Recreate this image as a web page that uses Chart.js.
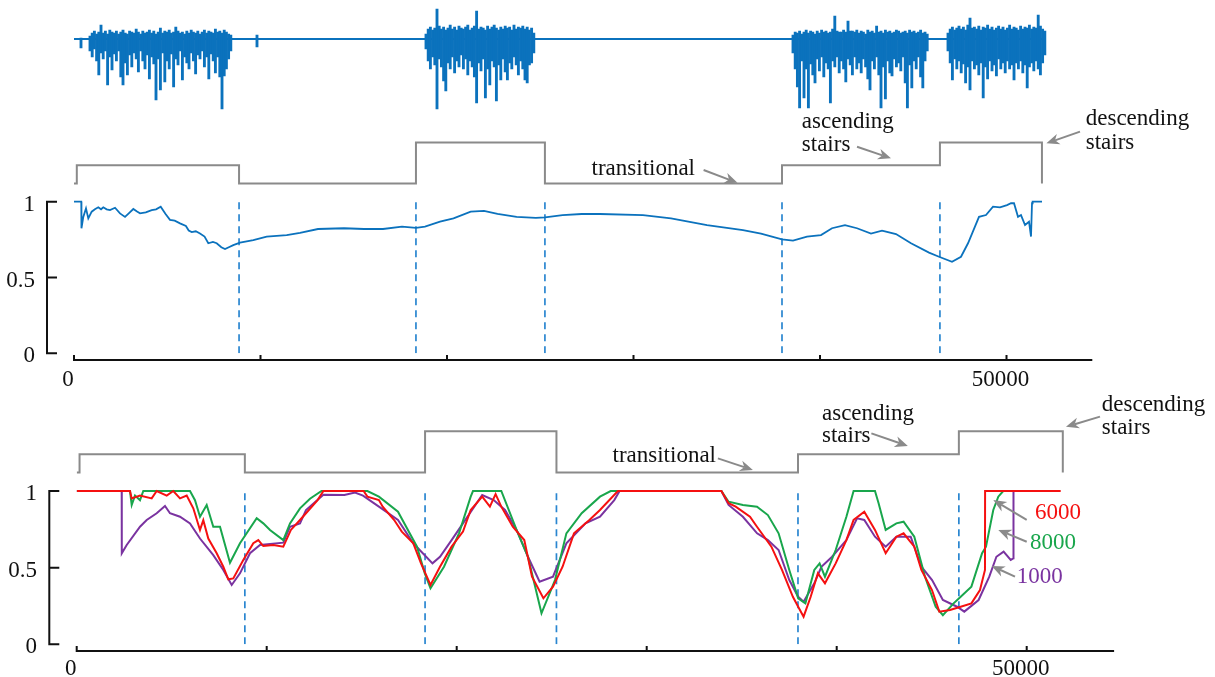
<!DOCTYPE html>
<html>
<head>
<meta charset="utf-8">
<script src="https://cdn.jsdelivr.net/npm/chart.js@4/dist/chart.umd.min.js"></script>
<style>
  html, body { margin: 0; padding: 0; background: #fff; }
  #wrap { position: relative; width: 1215px; height: 677px; overflow: hidden; }
  canvas { position: absolute; left: 0; }
</style>
</head>
<body>
<div id="wrap">
  <canvas id="signal" width="1215" height="120" style="top:0"></canvas>
  <canvas id="single" width="1215" height="305" style="top:90px"></canvas>
  <canvas id="windows" width="1215" height="297" style="top:380px"></canvas>
</div>
<script>
"use strict";

Chart.defaults.font.family = "'Liberation Serif', 'Times New Roman', serif";
Chart.defaults.font.size = 23;
Chart.defaults.color = "#111";

// x is the sample index
const sampleMax = 54600;
const xTicks = [0, 10000, 20000, 30000, 40000, 50000];
const xTickLabels = ["0", "", "", "", "", "50000"];
const yTicks = [0, 0.5, 1];

// gray activity trace: sample where each activity starts and its level
const activityX = [0, 150, 8850, 18335, 25250, 37962, 46430, 51900];
const activityLevel = [1.12, 1.24, 1.12, 1.39, 1.12, 1.24, 1.39, 1.12];
const changePoints = [8850, 18335, 25250, 37962, 46430];

// raw sensor bursts (one spike per entry, spread over each burst)
const burstStart = [858, 18874, 38552, 46863];
const burstEnd = [8408, 24654, 45748, 52054];
const burstLow = [
  [-12,-18,-10,-22,-36,-14,-20,-12,-46,-18,-31,-15,-22,-12,-38,-46,-24,-36,-16,-28,-14,-20,-33,-12,-22,-30,-16,-40,-18,-25,-61,-20,-51,-14,-43,-22,-30,-15,-48,-20,-26,-12,-41,-18,-24,-30,-14,-22,-35,-16,-20,-12,-28,-18,-40,-15,-22,-34,-18,-38,-70,-37,-30,-20,-12],
  [-10,-22,-30,-18,-26,-70,-20,-28,-42,-52,-24,-30,-18,-34,-22,-28,-16,-30,-20,-36,-22,-28,-38,-64,-24,-32,-20,-59,-30,-46,-22,-28,-62,-26,-41,-20,-33,-41,-24,-30,-18,-26,-36,-22,-30,-41,-44,-26,-24,-14],
  [-14,-30,-48,-69,-22,-59,-30,-69,-25,-36,-44,-20,-32,-18,-38,-24,-30,-64,-22,-28,-18,-34,-22,-30,-43,-20,-26,-36,-18,-30,-24,-34,-20,-28,-40,-51,-22,-30,-18,-36,-69,-28,-60,-22,-34,-37,-20,-28,-24,-32,-18,-44,-69,-26,-49,-22,-30,-18,-38,-49,-22,-12],
  [-12,-24,-41,-20,-30,-22,-34,-25,-44,-28,-51,-22,-30,-26,-36,-24,-59,-28,-40,-22,-32,-26,-37,-20,-30,-24,-34,-22,-30,-26,-41,-24,-30,-22,-34,-26,-49,-28,-24,-32,-22,-30,-36,-24,-16]
];
const burstHigh = [
  [3,6,8,5,7,14,6,8,5,9,7,6,8,5,7,9,6,5,8,7,6,10,7,5,8,6,7,9,6,8,5,7,11,6,8,7,9,6,7,12,8,6,7,5,8,6,9,7,6,8,5,7,9,6,8,7,6,10,7,8,6,9,7,5,4],
  [5,10,12,9,11,30,13,10,12,9,11,14,10,12,9,13,11,10,12,14,9,11,13,28,10,12,11,9,13,10,12,14,11,9,12,10,13,11,12,9,14,10,12,11,13,10,12,9,11,6],
  [4,7,6,8,5,7,9,6,8,7,5,8,6,9,7,8,6,7,10,23,8,7,7,9,7,18,8,8,7,9,6,8,7,5,9,7,8,6,13,7,8,6,9,7,8,6,7,9,8,6,7,8,6,9,7,8,6,7,9,6,7,5],
  [6,10,12,9,11,13,10,12,9,14,21,11,12,10,13,9,12,11,14,10,12,9,11,13,10,12,9,11,14,10,12,11,9,13,10,12,11,14,10,12,11,24,13,10,8]
];
const isolatedX = [375, 9812];
const isolatedLow = [-9, -8];
const isolatedHigh = [1, 4];
const signalEnd = 52054;

// estimate over the whole record
const singleTrace = [
  [0,1],[390,1],[400,0.825],[499,0.9],[643,0.956],[767,0.89],[949,0.934],[1120,0.95],[1303,0.963],[1450,0.95],
  [1571,0.963],[1750,0.95],[1930,0.945],[2200,0.96],[2466,0.923],[2735,0.9],[2950,0.925],[3180,0.952],[3380,0.935],
  [3539,0.923],[3850,0.93],[4166,0.945],[4400,0.95],[4649,0.967],[4900,0.92],[5147,0.88],[5400,0.875],[5684,0.857],
  [6000,0.84],[6150,0.81],[6311,0.8],[6530,0.805],[6756,0.79],[7000,0.77],[7201,0.726],[7450,0.735],[7651,0.726],
  [7900,0.7],[8097,0.688],[8300,0.7],[8542,0.714],[8901,0.73],[9614,0.747],[10332,0.77],[11405,0.78],[12118,0.795],
  [13083,0.82],[14477,0.825],[15550,0.82],[16568,0.82],[17587,0.835],[18338,0.828],[18820,0.835],[19625,0.868],
  [20349,0.89],[21271,0.934],[21984,0.94],[22708,0.919],[23732,0.9],[24761,0.894],[25255,0.897],[26198,0.912],
  [27222,0.919],[28204,0.919],[30509,0.912],[32011,0.89],[33941,0.846],[35871,0.813],[36836,0.79],[37962,0.752],
  [38552,0.743],[39303,0.77],[40054,0.78],[40643,0.825],[41340,0.846],[41984,0.825],[42735,0.79],[43324,0.809],
  [44075,0.787],[44879,0.726],[45845,0.664],[46381,0.637],[47078,0.604],[47560,0.637],[47936,0.726],[48525,0.9],
  [48901,0.912],[49276,0.967],[49651,0.963],[50027,0.978],[50241,0.99],[50402,0.99],[50617,0.9],[50777,0.912],
  [50992,0.846],[51206,0.868],[51314,0.77],[51367,0.99],[51400,1],[51903,1]
];

// sliding window estimates, window of 6000 / 8000 / 1000 samples
const trace6000 = [
  [0,1],[2805,1],[2895,0.952],[3332,0.97],[3947,0.952],[4210,1],[4737,0.97],[5084,1],[5437,0.952],[5789,0.97],
  [6137,0.887],[6489,0.746],[6663,0.81],[6926,0.69],[7368,0.594],[7716,0.506],[7979,0.424],[8242,0.43],[8768,0.55],
  [9295,0.659],[9558,0.68],[9821,0.641],[10347,0.648],[10873,0.637],[11273,0.746],[11752,0.811],[12068,0.855],
  [12679,0.941],[12984,1],[15100,1],[15300,0.963],[15905,0.941],[16105,0.898],[16710,0.811],[17110,0.735],
  [17716,0.659],[18121,0.528],[18621,0.387],[19121,0.506],[19731,0.637],[20331,0.735],[20737,0.876],[21342,0.963],
  [21747,0.898],[22047,0.98],[22347,0.898],[22952,0.767],[23557,0.68],[23963,0.441],[24563,0.3],[25068,0.376],
  [25573,0.506],[26173,0.724],[26984,0.811],[27542,0.876],[28484,1],[33931,1],[34310,0.92],[34684,0.898],
  [35436,0.832],[35805,0.767],[36563,0.637],[37120,0.485],[37694,0.31],[37973,0.245],[38257,0.18],[38631,0.31],
  [39010,0.463],[39383,0.398],[39946,0.528],[40510,0.68],[40889,0.811],[41452,0.865],[42015,0.746],[42578,0.594],
  [43141,0.702],[43520,0.724],[44084,0.637],[44457,0.485],[45015,0.354],[45399,0.213],[45962,0.224],[46526,0.245],
  [47089,0.267],[47541,0.354],[47804,0.485],[47810,1],[51789,1]
];
const trace8000 = [
  [0,1],[2805,1],[2895,0.909],[3068,0.97],[3332,0.94],[3505,1],[5963,1],[6226,0.94],[6489,0.832],[6842,0.909],
  [7189,0.767],[7542,0.767],[8068,0.532],[8594,0.659],[9473,0.822],[9821,0.789],[10173,0.746],[10873,0.68],
  [11226,0.789],[11752,0.887],[12278,0.95],[12884,1],[15300,1],[15905,0.963],[16910,0.865],[17910,0.637],
  [18321,0.463],[18621,0.365],[19331,0.506],[20121,0.724],[20737,0.963],[20857,1],[22347,1],[23152,0.746],
  [23752,0.571],[24463,0.202],[25173,0.419],[25773,0.724],[26578,0.855],[27542,0.963],[28105,1],[33931,1],
  [34310,0.93],[35063,0.909],[35805,0.898],[36378,0.843],[36942,0.724],[37505,0.485],[37973,0.3],[38352,0.267],
  [38821,0.485],[39100,0.528],[39383,0.441],[39946,0.615],[40510,0.832],[40889,1],[42015,1],[42205,0.92],
  [42578,0.746],[43141,0.789],[43520,0.8],[44084,0.702],[44647,0.441],[45210,0.245],[45589,0.19],[46152,0.267],
  [46526,0.31],[47089,0.376],[47652,0.594],[47857,0.637],[48241,0.876],[48505,0.963],[48768,1]
];
const trace1000 = [
  [0,1],[2368,1],[2373,0.594],[2632,0.648],[3332,0.767],[3684,0.811],[4210,0.855],[4647,0.902],[4910,0.855],
  [5437,0.832],[5963,0.789],[6489,0.69],[7189,0.582],[7716,0.485],[8158,0.387],[8594,0.463],[9121,0.594],
  [9647,0.648],[10873,0.663],[11226,0.767],[11752,0.789],[12068,0.876],[12984,0.976],[14089,0.974],[14647,0.99],
  [15068,0.97],[15905,0.898],[16910,0.811],[17716,0.659],[18726,0.528],[19121,0.571],[19731,0.68],[20331,0.789],
  [21342,0.974],[21947,0.941],[22542,0.876],[23152,0.746],[23752,0.571],[24363,0.408],[25068,0.441],[25773,0.659],
  [26778,0.789],[27542,0.832],[28294,0.941],[28573,1],[33931,1],[34310,0.909],[35063,0.832],[35810,0.724],
  [36378,0.68],[36942,0.615],[37505,0.419],[37973,0.31],[38257,0.278],[38821,0.398],[39194,0.506],[39757,0.571],
  [40510,0.68],[41073,0.822],[41452,0.811],[42015,0.702],[42578,0.637],[43141,0.702],[43894,0.702],[44457,0.506],
  [45020,0.419],[45589,0.289],[46336,0.245],[46715,0.213],[47468,0.289],[48031,0.441],[48405,0.571],[48784,0.604],
  [49157,0.55],[49294,0.561],[49305,1]
];

const BLUE = "#0b72bd";
const DASH_BLUE = "#2a86d0";
const GRAY = "#8a8a8a";
const RED = "#f51010";
const GREEN = "#19a64c";
const PURPLE = "#7a33a0";

// text + arrow callouts, placed in data units
const singleNotes = [
  { lines: ["transitional"], align: "right", at: 33298, lineY: [1.216], from: [33759, 1.209], to: [35576, 1.125] },
  { lines: ["ascending", "stairs"], align: "left", at: 39024, lineY: [1.525, 1.374], from: [41984, 1.363], to: [43807, 1.286] },
  { lines: ["descending", "stairs"], align: "left", at: 54247, lineY: [1.545, 1.387], from: [53941, 1.462], to: [52139, 1.385] }
];
const windowNotes = [
  { lines: ["transitional"], align: "right", at: 33647, lineY: [1.228], from: [33747, 1.213], to: [35589, 1.137] },
  { lines: ["ascending", "stairs"], align: "left", at: 39225, lineY: [1.502, 1.359], from: [41825, 1.376], to: [43746, 1.294] },
  { lines: ["descending", "stairs"], align: "left", at: 53952, lineY: [1.561, 1.411], from: [53857, 1.485], to: [52067, 1.419] },
  { lines: ["6000"], color: RED, align: "left", at: 50436, lineY: [0.856], from: [50000, 0.811], to: [48242, 0.941] },
  { lines: ["8000"], color: GREEN, align: "left", at: 50173, lineY: [0.661], from: [50000, 0.669], to: [48505, 0.746] },
  { lines: ["1000"], color: PURPLE, align: "left", at: 49473, lineY: [0.439], from: [49384, 0.441], to: [48157, 0.511] }
];

const toPoints = pairs => pairs.map(p => ({ x: p[0], y: p[1] }));

function drawArrow(ctx, x1, y1, x2, y2) {
  const a = Math.atan2(y2 - y1, x2 - x1);
  const c = Math.cos(a), s = Math.sin(a);
  const head = 13, half = 5.5;
  ctx.save();
  ctx.strokeStyle = GRAY;
  ctx.fillStyle = GRAY;
  ctx.lineWidth = 2;
  ctx.beginPath();
  ctx.moveTo(x1, y1);
  ctx.lineTo(x2 - head * 0.7 * c, y2 - head * 0.7 * s);
  ctx.stroke();
  ctx.beginPath();
  ctx.moveTo(x2, y2);
  ctx.lineTo(x2 - head * c + half * s, y2 - head * s - half * c);
  ctx.lineTo(x2 - head * 0.7 * c, y2 - head * 0.7 * s);
  ctx.lineTo(x2 - head * c - half * s, y2 - head * s + half * c);
  ctx.closePath();
  ctx.fill();
  ctx.restore();
}

function notesPlugin(notes) {
  return {
    id: "notes",
    afterDatasetsDraw(chart) {
      const { ctx, scales: { x, y } } = chart;
      notes.forEach(n => {
        ctx.save();
        ctx.font = "23px 'Liberation Serif', 'Times New Roman', serif";
        ctx.fillStyle = n.color || "#111";
        ctx.textAlign = n.align;
        ctx.textBaseline = "middle";
        const tx = x.getPixelForValue(n.at);
        n.lines.forEach((t, i) => ctx.fillText(t, tx, y.getPixelForValue(n.lineY[i])));
        ctx.restore();
        drawArrow(ctx, x.getPixelForValue(n.from[0]), y.getPixelForValue(n.from[1]),
          x.getPixelForValue(n.to[0]), y.getPixelForValue(n.to[1]));
      });
    }
  };
}

// detached axes: y bracket to the left, x line just under the plot
function axesPlugin(yLineX, xGap) {
  return {
    id: "detachedAxes",
    afterDraw(chart) {
      const { ctx, scales: { x, y } } = chart;
      const ay = y.getPixelForValue(0) + xGap;
      ctx.save();
      ctx.strokeStyle = "#111";
      ctx.lineWidth = 2;
      ctx.beginPath();
      ctx.moveTo(yLineX, y.getPixelForValue(0));
      ctx.lineTo(yLineX, y.getPixelForValue(1));
      yTicks.forEach(v => {
        const py = y.getPixelForValue(v);
        ctx.moveTo(yLineX - 1, py);
        ctx.lineTo(yLineX + 10, py);
      });
      ctx.moveTo(x.getPixelForValue(0) - 1, ay);
      ctx.lineTo(x.getPixelForValue(sampleMax), ay);
      xTicks.forEach(v => {
        const px = x.getPixelForValue(v);
        ctx.moveTo(px, ay);
        ctx.lineTo(px, ay - 5);
      });
      ctx.stroke();
      ctx.restore();
    }
  };
}

function panelScales(yWidth, yPad, xHeight, xPad) {
  return {
    x: {
      type: "linear", min: 0, max: sampleMax,
      grid: { display: false, drawTicks: false },
      border: { display: false },
      afterBuildTicks: s => { s.ticks = xTicks.map(v => ({ value: v })); },
      ticks: { autoSkip: false, maxRotation: 0, padding: xPad, labelOffset: -6, callback: (v, i) => xTickLabels[i] },
      afterFit: s => { s.height = xHeight; s.paddingLeft = 0; s.paddingRight = 0; }
    },
    y: {
      type: "linear", min: 0, max: 1.7,
      grid: { display: false, drawTicks: false },
      border: { display: false },
      afterBuildTicks: s => { s.ticks = yTicks.map(v => ({ value: v })); },
      ticks: { padding: yPad, labelOffset: 3, callback: v => String(v) },
      afterFit: s => { s.width = yWidth; s.paddingTop = 0; s.paddingBottom = 0; }
    }
  };
}

const lineStyle = (data, color, width) => ({
  data, borderColor: color, borderWidth: width, pointRadius: 0, tension: 0, fill: false
});

// each level holds until the next change point
const activityData = () => ({
  ...lineStyle(activityX.map((x, i) => ({ x, y: activityLevel[i] })), GRAY, 2),
  stepped: "before"
});
const changeLines = () => changePoints.map(c => ({
  ...lineStyle([{ x: c, y: 0 }, { x: c, y: 1 }], DASH_BLUE, 1.7),
  borderDash: [7, 5]
}));

const baseOptions = {
  responsive: false,
  animation: false,
  events: [],
  plugins: { legend: { display: false }, tooltip: { enabled: false } }
};

// raw signal on top
const spikes = [];
burstLow.forEach((lows, b) => {
  const step = (burstEnd[b] - burstStart[b]) / (lows.length - 1);
  lows.forEach((lo, i) => spikes.push({ x: burstStart[b] + i * step, y: [lo, burstHigh[b][i]] }));
});
isolatedX.forEach((x, i) => spikes.push({ x, y: [isolatedLow[i], isolatedHigh[i]] }));

new Chart(document.getElementById("signal"), {
  type: "bar",
  data: {
    datasets: [
      { type: "bar", data: spikes, backgroundColor: BLUE, borderWidth: 0, barThickness: 2.2 },
      { type: "line", ...lineStyle([{ x: 0, y: 0 }, { x: signalEnd, y: 0 }], BLUE, 2) }
    ]
  },
  options: {
    ...baseOptions,
    layout: { padding: { left: 74, right: 122.7, top: 0, bottom: 0 } },
    scales: {
      x: { type: "linear", min: 0, max: sampleMax, offset: false, display: false },
      y: { type: "linear", min: -81, max: 39, display: false }
    }
  }
});

// single estimate panel
new Chart(document.getElementById("single"), {
  type: "line",
  data: {
    datasets: [
      lineStyle(toPoints(singleTrace), BLUE, 1.8),
      activityData(),
      ...changeLines()
    ]
  },
  options: {
    ...baseOptions,
    layout: { padding: { left: 0, right: 122.7, top: 5.6, bottom: 0 } },
    scales: panelScales(74, 39, 41.7, 13)
  },
  plugins: [axesPlugin(47, 6.7), notesPlugin(singleNotes)]
});

// sliding window panel
new Chart(document.getElementById("windows"), {
  type: "line",
  data: {
    datasets: [
      lineStyle(toPoints(trace6000), RED, 2),
      lineStyle(toPoints(trace8000), GREEN, 2),
      lineStyle(toPoints(trace1000), PURPLE, 2),
      activityData(),
      ...changeLines()
    ]
  },
  options: {
    ...baseOptions,
    layout: { padding: { left: 0, right: 100.9, top: 3.7, bottom: 0 } },
    scales: panelScales(76.7, 39.7, 32.7, 10.4)
  },
  plugins: [axesPlugin(49.3, 6.7), notesPlugin(windowNotes)]
});
</script>
</body>
</html>
